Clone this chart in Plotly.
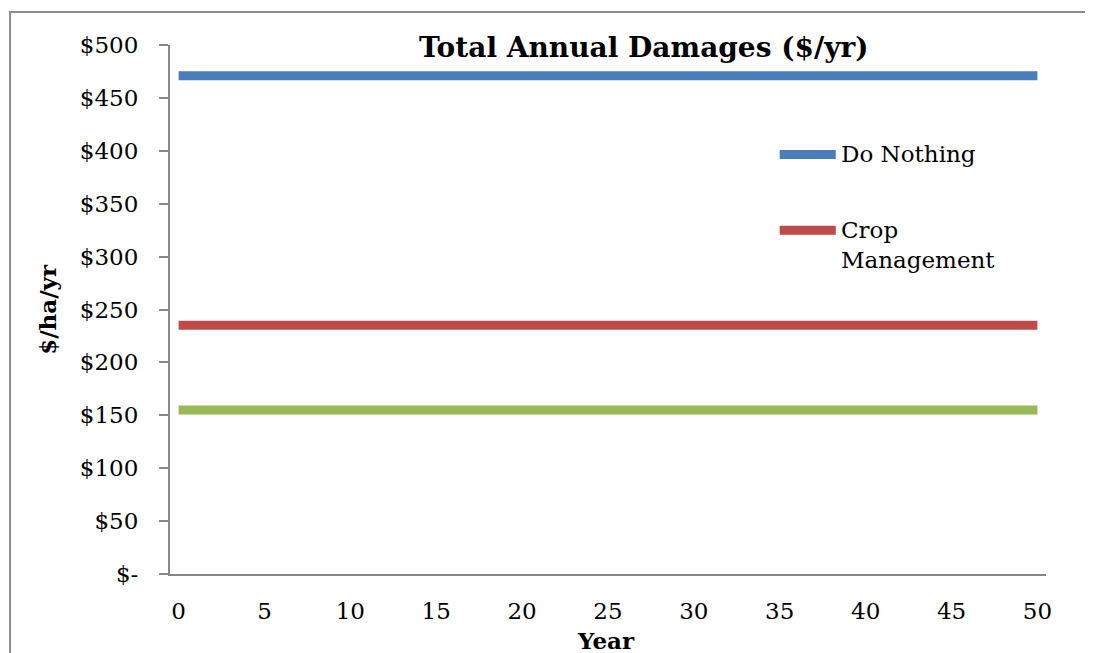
import plotly.graph_objects as go

years = list(range(0, 51))
series_names = ["Do Nothing", "Crop<br>Management", ""]
series_levels = [471, 235, 155]
series_colors = ["#4A7EBB", "#BE4B48", "#98B954"]
y_tickvals = [0, 50, 100, 150, 200, 250, 300, 350, 400, 450, 500]
y_ticktext = ["$-", "$50", "$100", "$150", "$200", "$250", "$300",
              "$350", "$400", "$450", "$500"]
x_tickvals = list(range(0, 51, 5))

FONT = "DejaVu Serif"
AXIS_COLOR = "#878787"


def create_figure():
    fig = go.Figure()

    # page body has an 8px margin, so the figure is 8px smaller each way
    fig.update_layout(
        width=1085,
        height=645,
        showlegend=False,
        paper_bgcolor="white",
        plot_bgcolor="white",
        font=dict(family=FONT, size=23, color="black"),
        margin=dict(l=162, r=47, t=37, b=79),
    )

    fig.update_xaxes(
        range=[-0.5, 50.5],
        tickvals=x_tickvals,
        ticks="",
        ticklabelstandoff=15,
        showgrid=False,
        zeroline=False,
        showline=True,
        linecolor=AXIS_COLOR,
        linewidth=2,
        title=None,
    )

    fig.update_yaxes(
        range=[0, 500],
        tickvals=y_tickvals,
        ticktext=y_ticktext,
        ticks="outside",
        ticklen=9,
        tickwidth=2,
        tickcolor=AXIS_COLOR,
        ticklabelstandoff=16,
        showgrid=False,
        zeroline=False,
        showline=True,
        linecolor=AXIS_COLOR,
        linewidth=2,
        title=None,
    )

    return fig


def add_series(figure, name, level, color):
    figure.add_trace(go.Scatter(
        x=years,
        y=[level] * len(years),
        mode="lines",
        name=name,
        line=dict(color=color, width=9),
        hoverinfo="skip",
    ))


def add_legend_entry(figure, name, color, y_line, y_text):
    figure.add_shape(
        type="line", xref="paper", yref="paper",
        x0=0.696, x1=0.760, y0=y_line, y1=y_line,
        line=dict(color=color, width=9),
    )
    figure.add_annotation(
        xref="paper", yref="paper", x=0.764, y=y_text,
        text=name, showarrow=False, xanchor="left", yanchor="top",
        align="left", font=dict(family=FONT, size=23),
    )


fig = create_figure()

for name, level, color in zip(series_names, series_levels, series_colors):
    add_series(fig, name, level, color)

add_legend_entry(fig, series_names[0], series_colors[0], 0.793, 0.822)
add_legend_entry(fig, series_names[1], series_colors[1], 0.650, 0.679)

# chart outline (Excel chart area border, cut off at right and bottom)
fig.add_shape(
    type="rect", xref="paper", yref="paper",
    x0=-0.1826, x1=1.07, y0=-0.2, y1=1.0624,
    line=dict(color="#8c8c8c", width=2),
)

fig.add_annotation(
    xref="paper", yref="paper", x=0.540, y=0.996,
    text="<b>Total Annual Damages ($/yr)</b>", showarrow=False,
    xanchor="center", yanchor="middle",
    font=dict(family=FONT, size=28),
)
fig.add_annotation(
    xref="paper", yref="paper", x=0.498, y=-0.125,
    text="<b>Year</b>", showarrow=False, xanchor="center", yanchor="middle",
    font=dict(family=FONT, size=23),
)
fig.add_annotation(
    xref="paper", yref="paper", x=-0.14, y=0.50,
    text="<b>$/ha/yr</b>", showarrow=False, textangle=-90,
    xanchor="center", yanchor="middle",
    font=dict(family=FONT, size=23),
)

fig.write_html("out.html")
